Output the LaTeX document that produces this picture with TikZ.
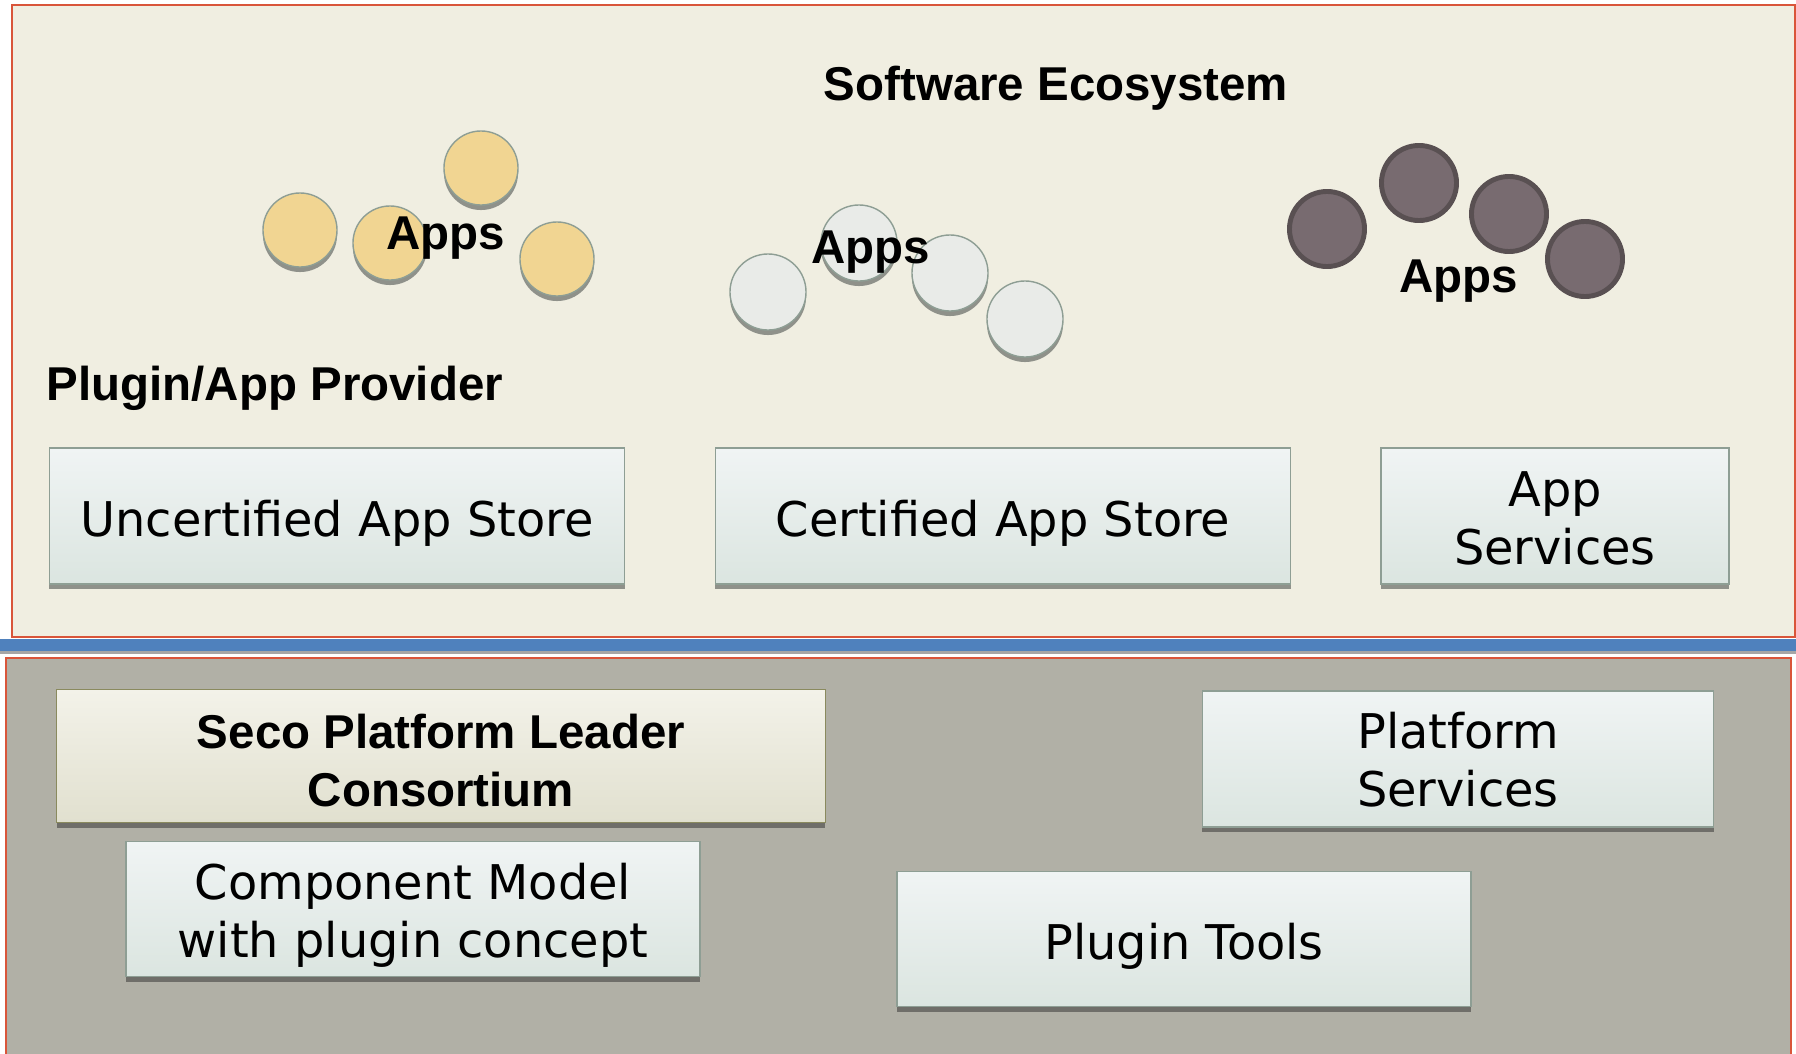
\documentclass[tikz,border=0pt]{standalone}
\usepackage{fontspec}
\setmainfont{DejaVu Sans}
\newfontfamily\headfont{Liberation Sans}
\usetikzlibrary{shadows}

\definecolor{ecoback}{HTML}{F0EEE1}
\definecolor{platback}{HTML}{B1B0A6}
\definecolor{panelline}{HTML}{D9553A}
\definecolor{barblue}{HTML}{4F81BD}
\definecolor{bargray}{HTML}{A6A6A6}
\definecolor{boxline}{HTML}{8E9E94}
\definecolor{boxtop}{HTML}{F0F4F4}
\definecolor{boxbottom}{HTML}{DBE5E0}
\definecolor{secoline}{HTML}{8A8A5E}
\definecolor{secotop}{HTML}{F3F2E9}
\definecolor{secobottom}{HTML}{E1E0CF}
\definecolor{uppershadow}{HTML}{8F918A}
\definecolor{lowershadow}{HTML}{6F6E69}
\definecolor{appyellow}{HTML}{F1D592}
\definecolor{appgray}{HTML}{E9EBE8}
\definecolor{appdark}{HTML}{786B70}
\definecolor{darkline}{HTML}{595052}

\newcommand\boxfont{\fontsize{13.6}{16.5}\selectfont}
\newcommand\titlefont{\headfont\bfseries\fontsize{13.5}{16.5}\selectfont}
% strut that pushes the first line down inside its box
\newcommand\textlift[1]{\rule{0pt}{#1}}

\tikzset{
  store/.style={draw=boxline, line width=0.4pt, top color=boxtop, bottom color=boxbottom,
    align=center, inner sep=0pt, font=\boxfont, minimum height=1.36cm},
  upshadow/.style={general shadow={fill=uppershadow, shadow yshift=-0.05cm}},
  lowshadow/.style={general shadow={fill=lowershadow, shadow yshift=-0.05cm}},
  seco/.style={store, draw=secoline, top color=secotop, bottom color=secobottom, font=\titlefont},
  yapp/.style={circle, draw=boxline, line width=0.4pt, fill=appyellow, minimum size=0.74cm,
    inner sep=0pt, upshadow},
  gapp/.style={yapp, fill=appgray, minimum size=0.76cm},
  dapp/.style={circle, draw=darkline, line width=1.4pt, fill=appdark, minimum size=0.75cm, inner sep=0pt},
  heading/.style={font=\titlefont, inner sep=0pt}
}

\begin{document}
\begin{tikzpicture}[x=0.01cm, y=-0.01cm]
    \useasboundingbox (0,0) rectangle (1796,1054);

    % Ecosystem panel
    \draw[panelline, fill=ecoback, line width=0.45pt] (12,5) rectangle (1795,637);

    % Platform panel
    \draw[panelline, fill=platback, line width=0.45pt] (6,658) rectangle (1791,1080);

    % Divider bar
    \fill[bargray] (0,648) rectangle (1796,654);
    \fill[barblue] (0,639) rectangle (1796,651);

    % Titles
    \node[heading, anchor=base] (eco) at (1056,100) {Software Ecosystem};
    \node[heading, anchor=base west] (provider) at (46,400) {Plugin/App Provider};

    % Uncertified apps
    \node[yapp] (y1) at (300,230) {};
    \node[yapp] (y2) at (390,243) {};
    \node[yapp] (y3) at (481,168) {};
    \node[yapp] (y4) at (557,259) {};
    \node[heading, anchor=base] (yapps) at (446,249) {Apps};

    % Certified apps
    \node[gapp] (g1) at (768,292) {};
    \node[gapp] (g2) at (859,243) {};
    \node[gapp] (g3) at (950,273) {};
    \node[gapp] (g4) at (1025,319) {};
    \node[heading, anchor=base] (gapps) at (871,263) {Apps};

    % Service apps
    \node[dapp] (d1) at (1327,229) {};
    \node[dapp] (d2) at (1419,183) {};
    \node[dapp] (d3) at (1509,214) {};
    \node[dapp] (d4) at (1585,259) {};
    \node[heading, anchor=base] (dapps) at (1459,292) {Apps};

    % Stores
    \node[store, upshadow, minimum width=5.75cm] (uncert) at (337,516) {\textlift{14.3pt}Uncertified App Store};
    \node[store, upshadow, minimum width=5.75cm] (cert) at (1003,516) {\textlift{14.3pt}Certified App Store};
    \node[store, upshadow, minimum width=3.48cm] (appserv) at (1555,516) {\textlift{11.5pt}App\\Services};

    % Platform
    \node[seco, lowshadow, minimum width=7.68cm, minimum height=1.33cm] (leader) at (441,756) {\textlift{12.2pt}Seco Platform Leader\\Consortium};
    \node[store, lowshadow, minimum width=5.74cm, minimum height=1.35cm] (compmodel) at (413,909) {\textlift{13.9pt}Component Model\\with plugin concept};
    \node[store, lowshadow, minimum width=5.11cm] (platserv) at (1458,759) {\textlift{10.8pt}Platform\\Services};
    \node[store, lowshadow, minimum width=5.74cm, minimum height=1.35cm] (tools) at (1184,939) {\textlift{14.2pt}Plugin Tools};
\end{tikzpicture}
\end{document}
